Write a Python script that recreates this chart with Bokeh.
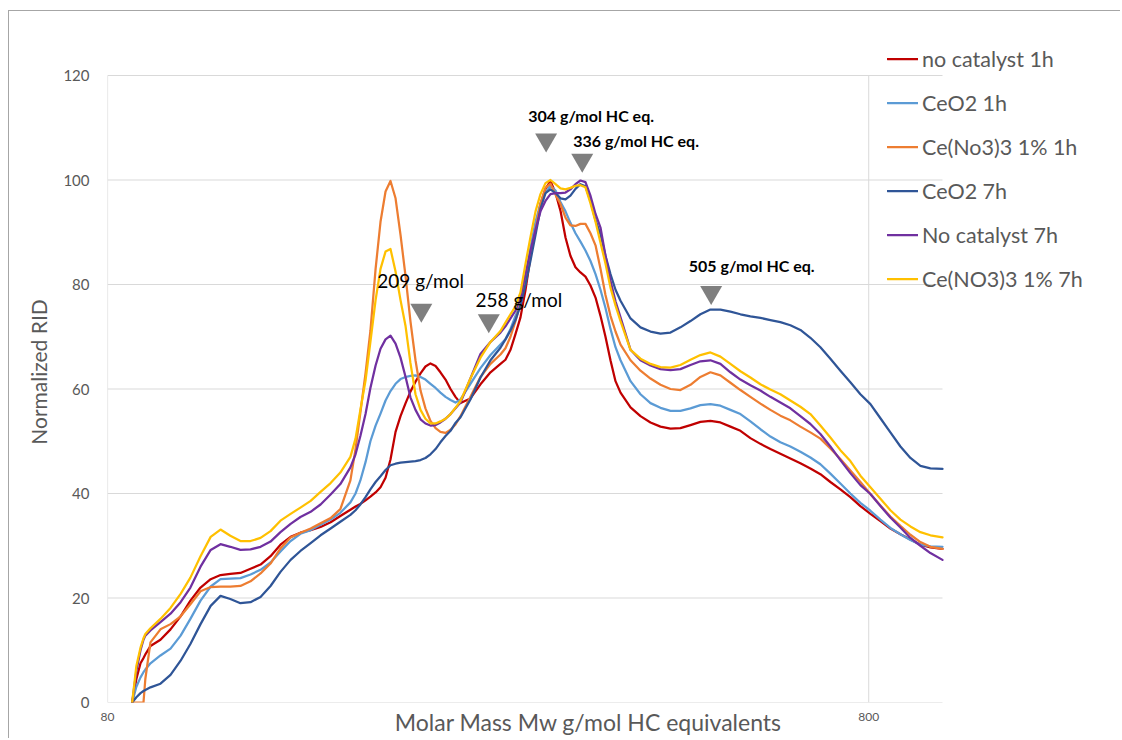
import math
from bokeh.plotting import figure
from bokeh.models import FixedTicker, PrintfTickFormatter, Legend, LegendItem
from bokeh.core.properties import value
from bokeh.embed import file_html
from bokeh.resources import INLINE

# Molar mass grid (g/mol HC equivalents)
mw = [86.2, 87.3, 88.4, 89.2, 89.7, 91.1,
      93.9, 96.8, 99.8, 102.8, 106.0, 109.3, 112.6, 116.0, 119.6, 123.3,
      127.1, 131.0, 135.0, 139.2, 143.4, 147.9, 152.4, 157.1, 161.8, 166.8,
      169.4, 171.9, 174.6, 177.2, 180.0, 182.7, 185.5, 188.3, 191.2, 194.1, 197.1,
      200.0, 203.1, 206.2, 209.3, 212.5, 215.8, 219.0, 222.4, 225.8, 229.2, 232.7,
      239.8, 247.2, 254.8, 262.6,
      266.6, 270.7, 274.8, 279.0, 283.3, 287.5, 292.0, 296.4, 300.9, 305.5, 310.2, 314.9,
      319.7, 324.5, 329.5, 334.5, 339.6, 344.8, 350.1, 355.4, 360.8, 366.3, 371.9, 377.6,
      389.2, 401.1, 413.4, 426.1, 439.2, 452.6, 466.6, 480.8, 495.6, 510.8,
      526.5, 542.7, 559.3, 576.5, 594.2, 612.4, 631.2, 650.6, 670.6, 691.2,
      712.4, 734.3, 756.8, 780.1, 804.1, 828.8, 854.2, 880.5, 907.5, 935.4, 964.1,
      1000.0]

no_catalyst_1h = [0, 4.5, 7.5, 8.5, 9.2, 10.8,
                  12.0, 14.0, 16.5, 19.5, 22.0, 23.6, 24.4, 24.6, 24.8, 25.6,
                  26.4, 28.0, 30.2, 31.7, 32.5, 33.0, 33.6, 34.5, 35.7, 36.9,
                  37.5, 38.0, 38.7, 39.4, 40.2, 41.2, 43.0, 46.5, 51.8, 54.8, 57.3,
                  59.5, 61.4, 63.0, 64.3, 64.9, 64.4, 63.2, 61.8, 60.0, 58.5, 57.3,
                  58.2, 60.9, 63.2, 64.8,
                  65.6, 67.5, 70.5, 73.7, 79.0, 85.2, 90.5, 95.4, 98.3, 99.8, 97.5, 94.1,
                  89.0, 85.5, 83.3, 82.3, 81.5, 79.8, 77.5, 74.0, 70.0, 65.5, 61.5, 59.3,
                  56.5, 54.8, 53.6, 52.8, 52.4, 52.5, 53.1, 53.7, 53.9, 53.6,
                  52.8, 52.0, 50.6, 49.5, 48.5, 47.6, 46.7, 45.8, 44.8, 43.7,
                  42.2, 40.8, 39.3, 37.6, 36.1, 34.7, 33.3, 32.2, 31.2, 30.2, 29.7,
                  29.4]

ceo2_1h = [0, 3.0, 4.8, 5.8, 6.3, 7.5,
           9.0, 10.3, 12.8, 16.0, 19.5, 22.2, 23.6, 23.7, 23.8, 24.5,
           25.4, 26.8, 28.9, 30.9, 32.3, 33.0, 34.0, 35.0, 36.3, 38.3,
           40.0, 42.5, 46.0, 50.0, 53.0, 55.3, 57.8, 59.6, 61.0, 61.9, 62.3,
           62.5, 62.6, 62.3, 61.8, 61.0, 60.2, 59.3, 58.5, 57.9, 57.4, 58.0,
           61.0, 64.0, 66.5, 68.5,
           69.5, 71.5, 74.0, 76.2, 81.5, 87.0, 92.0, 95.5, 97.5, 98.9, 98.0, 95.8,
           94.0, 91.8, 89.8, 88.2, 86.5, 84.5, 82.0, 79.0, 75.5, 71.5, 68.0, 65.5,
           61.5, 59.0, 57.3, 56.4, 55.8, 55.8, 56.3, 56.9, 57.1, 56.8,
           56.0, 55.2, 53.8, 52.3, 50.9, 49.8, 49.0, 48.0, 46.9, 45.6,
           43.8, 41.9, 40.0, 38.2, 36.7, 35.0, 33.4, 32.2, 31.1, 30.2, 29.9,
           29.8]

ceno3_1pct_1h = [0, 0, 0, 0, 4.5, 11.5,
                 14.0, 15.0, 16.5, 18.8, 21.3, 22.1, 22.2, 22.2, 22.3, 23.2,
                 24.7, 26.6, 29.5, 31.6, 32.5, 33.3, 34.3, 35.3, 37.0, 42.5,
                 48.5, 55.5, 63.0, 71.1, 83.0, 92.0, 97.8, 99.8, 96.5, 89.5, 81.5,
                 73.0, 65.5, 59.7, 56.3, 53.9, 52.5, 51.8, 51.6, 52.2, 53.2, 54.8,
                 58.5, 62.3, 64.8, 66.6,
                 67.8, 70.0, 73.0, 76.5, 81.0, 85.2, 90.5, 95.5, 98.5, 99.3, 97.2, 95.4,
                 92.8, 91.3, 91.2, 91.6, 91.6, 89.8, 87.5, 83.0, 78.0, 74.0, 71.0, 68.5,
                 65.5, 63.5, 62.0, 60.8, 60.0, 59.8, 60.8, 62.3, 63.2, 62.6,
                 61.2, 59.8, 58.5, 57.2, 56.0, 54.9, 54.0, 52.8, 51.7, 50.5,
                 48.6, 46.6, 44.4, 42.2, 39.9, 37.7, 35.6, 33.8, 32.1, 30.7, 29.8,
                 29.4]

ceo2_7h = [0, 1.0, 1.8, 2.2, 2.4, 2.9,
           3.6, 5.3, 8.0, 11.2, 15.0, 18.5, 20.4, 19.8, 19.0, 19.2,
           20.2, 22.3, 25.0, 27.3, 29.0, 30.5, 32.0, 33.3, 34.6, 35.9,
           36.8, 37.9, 39.3, 40.8, 42.2, 43.3, 44.5, 45.4, 45.7, 45.9, 46.0,
           46.1, 46.2, 46.4, 46.8, 47.5, 48.5, 49.8, 51.0, 52.0, 53.5, 54.6,
           58.0, 62.2, 65.5, 67.9,
           69.5, 71.2, 73.2, 76.0, 80.0, 84.5, 89.5, 94.5, 97.5, 98.2, 97.5, 96.5,
           96.3, 97.0, 98.3, 99.2, 98.8, 96.0, 92.3, 89.6, 85.5, 82.0, 79.0, 76.9,
           73.5, 71.8, 71.0, 70.6, 70.8, 71.8, 73.0, 74.3, 75.2, 75.2,
           74.8, 74.3, 73.9, 73.6, 73.2, 72.8, 72.2, 71.3, 69.8, 68.0,
           65.8, 63.5, 61.3, 59.0, 57.1, 54.4, 51.7, 49.0, 46.8, 45.3, 44.8,
           44.7]

no_catalyst_7h = [0, 6.0, 10.0, 12.0, 12.8, 13.8,
                  15.4, 17.0, 19.2, 22.0, 26.0, 29.2, 30.3, 29.8, 29.2, 29.3,
                  29.8, 30.8, 32.6, 34.2, 35.5, 36.5, 37.9, 39.8, 41.8, 45.0,
                  47.5, 51.0, 55.2, 60.2, 64.5, 67.7, 69.5, 70.2, 68.7, 66.0, 62.3,
                  58.4, 56.0, 54.2, 53.4, 53.0, 53.1, 53.6, 54.3, 55.2, 56.3, 57.4,
                  62.0, 66.7, 69.0, 70.8,
                  72.0, 73.5, 75.0, 77.5, 82.0, 86.4, 90.5, 94.0, 96.0, 97.3, 97.5, 97.5,
                  97.6, 98.2, 99.2, 99.9, 99.6, 97.0, 93.5, 90.9, 85.5, 80.7, 76.8, 73.7,
                  67.5, 65.5, 64.5, 63.8, 63.6, 63.8, 64.6, 65.3, 65.5, 64.8,
                  63.2, 61.8, 60.7, 59.7, 58.5, 57.4, 56.3, 54.8, 53.3, 51.4,
                  49.0, 46.4, 43.9, 41.6, 39.9, 37.6, 35.4, 33.5, 31.5, 30.0, 28.6,
                  27.3]

ceno3_1pct_7h = [0, 7.0, 10.5, 12.3, 13.1, 14.2,
                 16.0, 18.1, 20.8, 23.9, 28.0, 31.7, 33.1, 31.9, 30.9, 30.9,
                 31.5, 32.8, 34.8, 36.1, 37.3, 38.6, 40.3, 42.0, 44.0, 47.0,
                 50.5, 56.0, 61.6, 69.0, 77.0, 83.0, 86.3, 86.8, 82.5, 77.0, 72.0,
                 65.0, 59.0, 56.0, 54.3, 53.4, 53.4, 53.8, 54.3, 55.2, 56.4, 57.7,
                 62.0, 66.0, 69.0, 71.1,
                 72.7, 74.3, 75.8, 78.5, 84.0, 89.0, 94.0, 97.3, 99.4, 100.0, 99.2, 98.4,
                 98.2, 98.5, 98.9, 99.0, 98.6, 95.5, 92.0, 88.0, 84.0, 79.4, 76.0, 73.0,
                 67.5, 65.8, 64.8, 64.2, 64.1, 64.6, 65.6, 66.5, 67.0, 66.2,
                 64.8, 63.4, 62.2, 60.9, 59.9, 59.0, 57.8, 56.6, 55.2, 53.0,
                 50.7, 48.3, 46.2, 43.4, 41.2, 39.0, 36.8, 35.0, 33.7, 32.6, 32.0,
                 31.6]

series_names = ["no catalyst 1h", "CeO2 1h", "Ce(No3)3 1% 1h",
                "CeO2 7h", "No catalyst 7h", "Ce(NO3)3 1% 7h"]
series_values = [no_catalyst_1h, ceo2_1h, ceno3_1pct_1h,
                 ceo2_7h, no_catalyst_7h, ceno3_1pct_7h]
series_colors = ["#C00000", "#5B9BD5", "#ED7D31", "#2F5597", "#7030A0", "#FFC000"]

# Peak annotations
peak_mw = [206.7, 253.5, 301.5, 336.3, 496.7]
peak_y = [75.1, 73.1, 107.7, 103.8, 78.5]

plain_labels = ["209 g/mol", "258 g/mol"]
plain_label_mw = [180.9, 243.5]
plain_label_y = [80.7, 77.2]

bold_labels = ["304 g/mol HC eq.", "336 g/mol HC eq.", "505 g/mol HC eq."]
bold_label_mw = [285.6, 327.2, 464.2]
bold_label_y = [112.3, 107.5, 83.6]

y_ticks = [0, 20, 40, 60, 80, 100, 120]
x_ticks = [80, 800]
x_min, x_max = 80, 1000
y_min, y_max = 0, 120

GRAY = "#595959"
GRID = "#d9d9d9"
FONT = "Lato"

# Layout geometry (pixels): the data area spans 835 x 627 px; the frame is
# enlarged to the right and top so that the legend (which overlaps the chart
# area in the original) is not clipped.
W, H = 1112, 728
BL, BR, BT, BB = 98, 11, 30, 37
frame_w = W - BL - BR
frame_h = H - BT - BB
data_w, data_h = 835, 627
x_end = x_min * 10 ** (math.log10(x_max / x_min) * frame_w / data_w)
y_end = y_max * frame_h / data_h

p = figure(width=W, height=H, x_axis_type="log", x_range=(x_min, x_end), y_range=(y_min, y_end),
           output_backend="svg", toolbar_location=None,
           min_border_left=BL, min_border_right=BR, min_border_top=BT, min_border_bottom=BB)
p.outline_line_color = None
p.styles = {"margin-left": "8px", "margin-top": "10px",
            "border-top": "1px solid #a6a6a6", "border-left": "1px solid #a6a6a6"}

# built-in grids off; grid drawn only across the data area
p.xgrid.grid_line_color = None
p.ygrid.grid_line_color = None
gy = y_ticks[1:]
p.segment(x0=[x_min] * len(gy), y0=gy, x1=[x_max] * len(gy), y1=gy,
          line_color=GRID, line_width=1, level="underlay")
p.segment(x0=[800], y0=[y_min], x1=[800], y1=[y_max], line_color=GRID, line_width=1, level="underlay")
# axis lines
p.segment(x0=[x_min], y0=[y_min], x1=[x_max], y1=[y_min], line_color=GRID, line_width=1.2, level="underlay")
p.segment(x0=[x_min], y0=[y_min], x1=[x_min], y1=[y_max], line_color=GRID, line_width=1.2, level="underlay")

# y axis
p.yaxis.ticker = FixedTicker(ticks=y_ticks)
p.yaxis.axis_line_color = None
p.yaxis.major_tick_line_color = None
p.yaxis.minor_tick_line_color = None
p.yaxis.major_tick_in = 0
p.yaxis.major_tick_out = 0
p.yaxis.major_label_text_font = FONT
p.yaxis.major_label_text_font_size = "15px"
p.yaxis.major_label_text_color = GRAY
p.yaxis.major_label_standoff = 18
p.yaxis.axis_label = "Normalized RID"
p.yaxis.axis_label_text_font = FONT
p.yaxis.axis_label_text_font_style = "normal"
p.yaxis.axis_label_text_font_size = "21px"
p.yaxis.axis_label_text_color = GRAY
p.yaxis.axis_label_standoff = 9

# x axis
p.xaxis.ticker = FixedTicker(ticks=x_ticks)
p.xaxis.formatter = PrintfTickFormatter(format="%d")
p.xaxis.axis_line_color = None
p.xaxis.major_tick_line_color = None
p.xaxis.minor_tick_line_color = None
p.xaxis.major_tick_in = 0
p.xaxis.major_tick_out = 0
p.xaxis.major_label_text_font = FONT
p.xaxis.major_label_text_font_size = "12px"
p.xaxis.major_label_text_color = GRAY
p.xaxis.major_label_standoff = 10
p.xaxis.axis_label = "Molar Mass Mw g/mol HC equivalents" + "\u00a0" * 7
p.xaxis.axis_label_text_font = FONT
p.xaxis.axis_label_text_font_style = "normal"
p.xaxis.axis_label_text_font_size = "23px"
p.xaxis.axis_label_text_color = GRAY
p.xaxis.axis_label_standoff = -16

items = []
for name, ys, color in zip(series_names, series_values, series_colors):
    r = p.line(mw, ys, line_color=color, line_width=2.25, line_join="round", line_cap="round")
    items.append(LegendItem(label=name, renderers=[r]))

p.scatter(x=peak_mw, y=peak_y, marker="inverted_triangle", size=22,
          fill_color="#7f7f7f", line_color=None)

p.text(x=plain_label_mw, y=plain_label_y, text=plain_labels, text_font=value(FONT),
       text_font_size="19px", text_color="black", text_align="left", text_baseline="middle")
p.text(x=bold_label_mw, y=bold_label_y, text=bold_labels, text_font=value(FONT),
       text_font_size="16px", text_font_style="bold", text_color="black",
       text_align="left", text_baseline="middle")

legend = Legend(items=items, location=(780, 410), orientation="vertical",
                glyph_width=31, glyph_height=27, label_height=27, label_standoff=4,
                spacing=17, padding=0, margin=0, border_line_color=None,
                background_fill_alpha=0,
                label_text_font=FONT, label_text_font_size="21.5px", label_text_color=GRAY)
p.add_layout(legend)

open("out.html", "w").write(file_html(p, INLINE))
